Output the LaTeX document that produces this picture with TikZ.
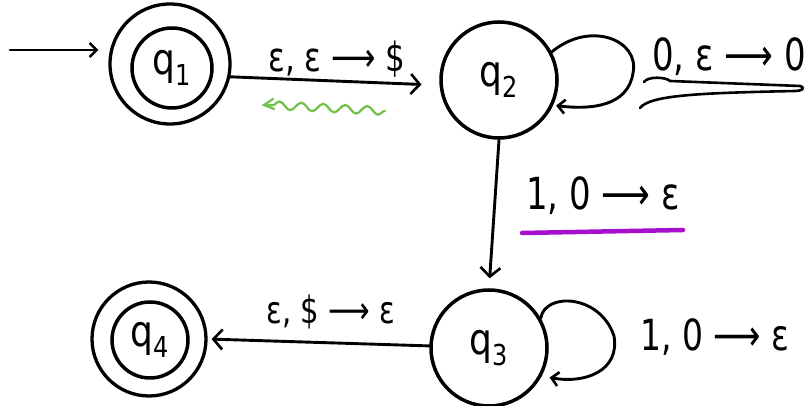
\documentclass[tikz,border=0pt]{standalone}
\usepackage{fontspec}
\setmainfont{DejaVu Sans}
\usetikzlibrary{arrows.meta,decorations.pathmorphing}
\definecolor{squiggle}{RGB}{112,192,72}
\definecolor{highlight}{RGB}{165,15,205}
\newcommand{\stname}[1]{\scalebox{1}[1.2]{q\raisebox{-0.25em}{\fontsize{24}{26}\selectfont#1}}}
\newcommand{\tall}[1]{\scalebox{1}[1.3]{#1}}
\begin{document}
\begin{tikzpicture}[x=1pt,y=1pt,
  statenode/.style={circle,draw,line width=3.5pt,inner sep=0pt,font=\fontsize{36}{40}\selectfont},
  ring/.style={circle,draw,line width=3.3pt,inner sep=0pt},
  arr/.style={line width=2.9pt,line cap=round,line join=round,
    -{Straight Barb[length=9pt,width=20pt,line width=2.6pt]}},
  loopline/.style={line width=2.9pt,line cap=round,line join=round,
    -{Straight Barb[length=7pt,width=14pt,line width=2.6pt]}},
  lbl/.style={inner sep=0pt,font=\fontsize{31}{36}\selectfont},
  stroke/.style={line width=2.6pt,line cap=round,line join=round}]
\useasboundingbox (0,0) rectangle (805,406);

% states
\node[statenode,minimum size=80pt] (q1) at (172,338) {\stname{1}};
\node[ring,minimum size=120pt] (q1o) at (170,342) {};
\node[statenode,minimum size=116pt] (q2) at (499,326) {\stname{2}};
\node[statenode,minimum size=116pt] (q3) at (489,58) {\stname{3}};
\node[statenode,minimum size=76pt] (q4) at (150,66) {\stname{4}};
\node[ring,minimum size=114pt] (q4o) at (149,67) {};

% start arrow
\coordinate (start) at (10,356);
\draw[arr,-{Straight Barb[length=7pt,width=14pt,line width=2.4pt]},shorten >=10pt]
  (start) -- (start -| q1o.west);

% q1 -> q2
\draw[arr,shorten >=18pt] (q1o.-12) -- (q2.185);
\node[lbl] (l12) at (337,347) {\tall{ε, ε ⟶ \$}};
\draw[squiggle,line width=2.2pt,line cap=round,decorate,
  decoration={snake,amplitude=4pt,segment length=22pt}]
  (385,295) -- (268,301);
\draw[squiggle,line width=2.2pt,line cap=round] (273,307) -- (264,301) -- (274,297);

% q2 self loop
\draw[loopline,shorten >=3pt] (q2.28) .. controls (590,386) and (640,366) .. (633,333)
  .. controls (628,300) and (592,296) .. (q2.-25);
\node[lbl,anchor=west,font=\fontsize{34}{40}\selectfont] (l22) at (652,349) {\tall{0, ε ⟶ 0}};
\draw[stroke] (644,324) .. controls (648,330) and (666,329) .. (670,325)
  -- (800,320) .. controls (806,318) and (802,315) .. (795,315)
  .. controls (700,313) and (650,311) .. (640,298);

% q2 -> q3
\draw[arr,shorten >=10pt] (q2.south) -- (q3.north);
\node[lbl,font=\fontsize{34}{40}\selectfont] (l23) at (603,210) {\tall{1, 0 ⟶ ε}};
\draw[highlight,line width=4.5pt,line cap=round] (522,173) -- (683,176);

% q3 self loop
\draw[loopline,shorten >=8pt] (q3.30) .. controls (545,114) and (600,112) .. (614,70)
  .. controls (620,35) and (585,22) .. (q3.-28);
\node[lbl,font=\fontsize{33}{40}\selectfont] (l33) at (715,69) {\tall{1, 0 ⟶ ε}};

% q3 -> q4
\draw[arr,shorten >=4pt] (q3.178) -- (q4o.east);
\node[lbl,font=\fontsize{29}{36}\selectfont] (l34) at (331,94) {\tall{ε, \$ ⟶ ε}};
\end{tikzpicture}
\end{document}
